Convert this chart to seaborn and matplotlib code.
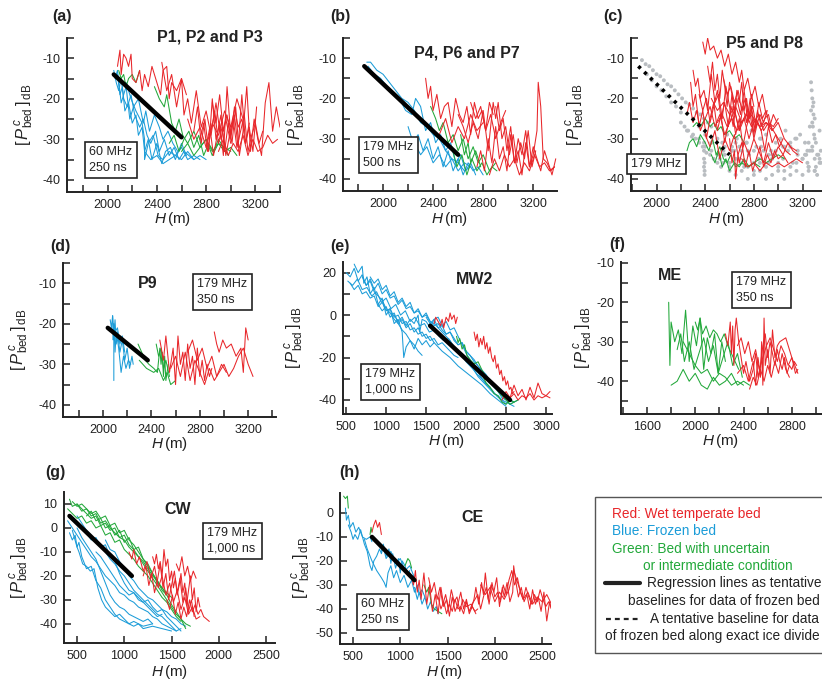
import matplotlib
matplotlib.use("Agg")
import matplotlib.pyplot as plt
import pandas as pd
import seaborn as sns
from matplotlib.ticker import MultipleLocator
from matplotlib.lines import Line2D
from matplotlib.patches import Rectangle

RED = "#e8262a"
BLUE = "#1b9cd8"
GREEN = "#22a83a"
GRAY = "#b9bdc1"

# ---------------- (a) P1, P2 and P3 ----------------
a_b1_h = [2050,2070,2090,2110,2130,2160,2190,2220,2260,2290,2320,2350,2390,2420,2460,2500,2540,2580,2620,2660,2700]
a_b1_p = [-13,-16,-18,-15,-20,-22,-19,-24,-27,-25,-29,-31,-28,-33,-30,-34,-32,-35,-33,-34,-35]
a_b2_h = [2080,2100,2120,2140,2170,2200,2230,2250,2280,2300,2330,2360,2400,2440,2470,2510,2550,2600,2640]
a_b2_p = [-14,-19,-17,-23,-21,-26,-24,-29,-27,-33,-30,-35,-31,-36,-33,-32,-35,-31,-34]
a_b3_h = [2060,2080,2110,2150,2180,2210,2250,2290,2310,2340,2380,2420,2450,2490,2530,2570]
a_b3_p = [-15,-13,-21,-17,-25,-22,-20,-26,-23,-28,-24,-27,-30,-28,-31,-33]
a_b4_h = [2150,2190,2230,2280,2300,2300,2330,2370,2410,2450,2500,2550,2600,2650,2700,2750]
a_b4_p = [-16,-20,-23,-26,-30,-35,-31,-29,-34,-35,-33,-34,-32,-35,-34,-35]
a_b5_h = [2300,2350,2400,2450,2500,2550,2600,2650,2700,2750,2800]
a_b5_p = [-33,-35,-34,-36,-35,-34,-35,-33,-35,-34,-35]
a_g1_h = [2090,2110,2130,2150,2170,2200,2230,2260]
a_g1_p = [-13,-15,-14,-17,-15,-14,-16,-13]
a_g2_h = [2380,2420,2460,2480,2520,2550,2580,2610,2650,2700,2750,2800,2850,2900,2950,3000]
a_g2_p = [-17,-20,-22,-19,-26,-28,-25,-29,-31,-28,-32,-30,-33,-31,-32,-33]
a_g3_h = [2500,2540,2580,2620,2660,2700,2740,2780,2820,2860,2900,2940,2980]
a_g3_p = [-31,-29,-33,-30,-28,-32,-29,-34,-31,-33,-30,-32,-34]
a_g4_h = [2600,2650,2700,2750,2800,2850,2900,2950,3000,3050]
a_g4_p = [-33,-31,-34,-32,-30,-34,-31,-33,-32,-34]
a_r1_h = [2080,2100,2110,2130,2150,2170,2190,2200,2230,2260,2280,2300,2330,2360,2400,2430,2450,2480,2500,2520,2560,2600,2640]
a_r1_p = [-12,-8,-14,-9,-10,-12,-9,-15,-16,-13,-18,-14,-17,-12,-16,-19,-13,-12,-20,-16,-18,-15,-19]
a_r2_h = [2440,2480,2520,2560,2600,2620,2650,2680,2720,2760,2800,2840,2880,2920,2960,3000]
a_r2_p = [-11,-18,-14,-22,-15,-24,-20,-26,-18,-27,-23,-29,-21,-30,-25,-31]
a_r3_h = [2700,2730,2760,2790,2820,2850,2880,2910,2940,2970,3000,3030,3060,3090,3120,3150,3180,3210]
a_r3_p = [-28,-22,-31,-25,-33,-20,-30,-26,-34,-17,-29,-24,-32,-19,-31,-27,-33,-22]
a_r4_h = [2800,2830,2860,2890,2920,2950,2980,3010,3040,3070,3100,3130,3160,3190,3220,3250,3280,3310,3340,3370,3400]
a_r4_p = [-32,-27,-34,-29,-24,-33,-26,-31,-22,-34,-28,-17,-33,-25,-30,-34,-21,-16,-28,-22,-27]
a_r5_h = [2900,2940,2980,3020,3060,3100,3140,3180,3220,3260,3300,3340,3380]
a_r5_p = [-33,-30,-34,-31,-33,-29,-34,-30,-33,-32,-29,-31,-30]
a_r6_h = [2650,2700,2750,2800,2850,2900,2950,3000,3050,3100]
a_r6_p = [-25,-30,-27,-32,-26,-29,-23,-27,-20,-25]
a_r7_h = [2750,2780,2810,2840,2870,2900,2930,2960,2990,3020,3050,3080,3110,3140,3170,3200,3230,3260]
a_r7_p = [-30,-26,-33,-28,-23,-31,-27,-34,-29,-25,-32,-28,-24,-33,-29,-26,-31,-28]
a_r8_h = [2850,2880,2910,2940,2970,3000,3030,3060,3090,3120,3150]
a_r8_p = [-21,-26,-19,-28,-24,-30,-22,-27,-25,-31,-26]
a_fit_h = [2050, 2600]
a_fit_p = [-14, -29.5]

# ---------------- (b) P4, P6 and P7 ----------------
b_b1_h = [1870,1900,1950,2000,2050,2100,2150,2200,2250,2300,2350,2400,2450,2500,2550,2600,2650,2700]
b_b1_p = [-11,-11,-13,-14,-16,-18,-20,-21,-23,-26,-27,-29,-30,-33,-35,-36,-38,-37]
b_b2_h = [1880,1930,1980,2030,2080,2130,2180,2230,2260,2300,2340,2380,2420,2460,2500,2540,2580,2620,2660,2700,2740]
b_b2_p = [-12,-14,-15,-17,-19,-20,-23,-24,-20,-22,-28,-26,-31,-29,-33,-31,-36,-34,-38,-36,-39]
b_b3_h = [2200,2240,2280,2320,2360,2400,2440,2480,2520,2560,2600,2640,2680,2720,2760,2800]
b_b3_p = [-27,-31,-29,-33,-30,-35,-32,-37,-33,-38,-35,-39,-36,-38,-37,-39]
b_b4_h = [2250,2300,2350,2400,2450,2500,2550,2600,2650,2700]
b_b4_p = [-31,-34,-32,-36,-34,-37,-35,-38,-36,-37]
b_g1_h = [2380,2420,2450,2480,2520,2560,2600,2640,2680,2720,2760,2800,2850,2900]
b_g1_p = [-22,-25,-28,-26,-31,-29,-33,-30,-35,-32,-36,-34,-38,-36]
b_g2_h = [2550,2590,2630,2670,2710,2750,2790,2830,2870,2910]
b_g2_p = [-32,-37,-34,-39,-35,-38,-36,-39,-37,-38]
b_g3_h = [2620,2650,2680,2700,2740,2780]
b_g3_p = [-29,-34,-31,-36,-33,-37]
b_r1_h = [2340,2360,2380,2400,2430,2460,2490,2520,2550,2580,2610,2640,2670,2700,2730,2760,2790,2820,2850,2880]
b_r1_p = [-15,-20,-17,-23,-19,-25,-22,-21,-27,-20,-24,-26,-22,-29,-21,-25,-23,-28,-21,-24]
b_r2_h = [2600,2640,2680,2720,2760,2800,2840,2880,2900,2920,2950,2980,3010,3040,3070,3100,3130,3160,3190,3220]
b_r2_p = [-24,-27,-31,-26,-30,-23,-33,-21,-25,-21,-30,-27,-34,-29,-36,-31,-35,-28,-37,-33]
b_r3_h = [2750,2780,2810,2840,2870,2900,2930,2960,2990,3020,3050,3080,3110,3140,3170,3200,3230,3240,3260,3280,3310,3340,3370]
b_r3_p = [-37,-33,-38,-30,-36,-27,-35,-32,-38,-29,-36,-33,-39,-31,-37,-34,-28,-16,-22,-35,-36,-38,-37]
b_r4_h = [2850,2890,2930,2970,3010,3050,3090,3130,3170,3210,3250,3290,3330,3370]
b_r4_p = [-39,-35,-38,-34,-37,-35,-39,-36,-38,-34,-37,-36,-38,-37]
b_r5_h = [2450,2500,2550,2600,2650,2700,2750,2800]
b_r5_p = [-29,-25,-31,-27,-30,-24,-28,-26]
b_r6_h = [2900,2930,2960,2990,3020,3050,3080,3110,3140,3170,3200,3230,3260,3290,3320,3350,3380]
b_r6_p = [-22,-28,-25,-33,-27,-36,-30,-34,-28,-37,-32,-35,-38,-33,-36,-39,-35]
b_r7_h = [2700,2740,2780,2820,2860,2900,2940,2980]
b_r7_p = [-21,-25,-22,-28,-24,-30,-26,-23]
b_fit_h = [1850, 2600]
b_fit_p = [-12, -34]

# ---------------- (c) P5 and P8 ----------------
c_gray1_h = [1880,1910,1940,1970,2000,2030,2060,2090,2120,2150,2180,2210,2240,2270,2300,2330,2360,2390,2420,2450]
c_gray1_p = [-10.5,-11.5,-12,-13,-14,-14.5,-15.5,-16.5,-17,-18,-19,-20,-21,-21.5,-22.5,-23.5,-24,-25,-26,-27]
c_gray2_h = [2200,2230,2260,2290,2320,2350,2380,2410,2440,2470,2500,2530]
c_gray2_p = [-26,-27,-28,-29.5,-30,-31,-32,-33.5,-34,-35,-36,-37]
c_gray3_h = [2390,2390,2390,2390,2395,2395,2395]
c_gray3_p = [-31,-33,-35,-37,-38,-39,-36]
c_gray4_h = [2500,2540,2580,2620,2660,2700,2740,2780,2820,2860,2900,2940,2980,3020,3060,3100,3140,3180,3220,3260,3300,3340]
c_gray4_p = [-30,-31,-29,-32,-30,-33,-31,-28,-32,-30,-29,-33,-31,-30,-28,-32,-30,-29,-31,-27,-30,-28]
c_gray5_h = [2520,2560,2600,2640,2680,2720,2760,2800,2840,2880,2920,2960,3000,3040,3080,3120,3160,3200,3240,3280,3320]
c_gray5_p = [-35,-34,-36,-33,-35,-37,-34,-36,-35,-33,-36,-34,-37,-35,-33,-36,-34,-35,-33,-32,-34]
c_gray6_h = [2600,2650,2700,2750,2800,2850,2900,2950,3000,3050,3100,3150,3200,3250,3300,3350]
c_gray6_p = [-38,-39,-38,-40,-39,-38,-40,-39,-38,-40,-39,-38,-39,-37,-38,-36]
c_gray7_h = [3270,3275,3280,3285,3290,3280,3270,3285,3295,3300,3310,3290]
c_gray7_p = [-16,-18,-20,-22,-24,-26,-23,-27,-29,-25,-31,-21]
c_gray8_h = [2300,2350,2400,2450,2550,2650,2750,2850,2950,3050,3150,3250]
c_gray8_p = [-25,-27,-29,-31,-33,-31,-33,-30,-34,-32,-30,-31]
c_gray9_h = [2250,2300,2350,2400,2450,2500,2550,2600,2650,2700,2750,2800,2850,2900,2950,3000,3050,3100,3150,3200,3250,3300]
c_gray9_p = [-28,-29,-30,-32,-33,-34,-36,-37,-35,-36,-37,-38,-36,-37,-35,-36,-38,-37,-36,-35,-37,-38]
c_gray10_h = [2560,2620,2680,2740,2800,2860,2920,2980,3040,3100,3160,3220,3280,3340]
c_gray10_p = [-32,-33,-32,-31,-33,-32,-34,-33,-32,-31,-33,-34,-33,-35]
c_gray11_h = [1920,1960,2000,2040,2080,2120,2160,2200]
c_gray11_p = [-14,-15.5,-17,-18,-19.5,-21,-22,-23.5]
c_gray12_h = [3230,3240,3250,3260,3300,3310,3320,3330,3340,3350]
c_gray12_p = [-34,-36,-38,-33,-35,-37,-39,-34,-36,-33]
c_r1_h = [2380,2400,2420,2440,2470,2500,2530,2560,2590,2620,2650,2680,2700,2720,2750,2780,2810,2840,2870,2900]
c_r1_p = [-6,-9,-5,-8,-7,-10,-8,-12,-9,-14,-11,-16,-13,-18,-15,-20,-17,-22,-19,-24]
c_r2_h = [2300,2320,2340,2360,2390,2420,2450,2480,2510,2540,2570,2600,2630,2660,2690,2720,2750,2780,2810,2840,2870,2900,2930,2960,2990]
c_r2_p = [-13,-17,-15,-20,-18,-23,-14,-21,-19,-25,-17,-22,-27,-20,-24,-18,-26,-22,-28,-21,-25,-23,-27,-24,-26]
c_r3_h = [2250,2270,2300,2330,2360,2400,2440,2480,2520,2560,2600,2640,2680,2720,2760,2800,2840,2880,2920,2960,3000]
c_r3_p = [-24,-21,-26,-23,-28,-25,-22,-27,-24,-29,-26,-23,-28,-25,-30,-26,-24,-28,-26,-27,-25]
c_r4_h = [2350,2380,2410,2440,2470,2500,2530,2560,2590,2620,2650,2680,2710,2740,2770,2800,2830,2860,2890,2920,2950]
c_r4_p = [-19,-23,-20,-26,-22,-18,-25,-21,-27,-19,-24,-28,-22,-26,-20,-29,-23,-27,-25,-24,-28]
c_r5_h = [2400,2440,2480,2520,2560,2600,2640,2680,2720,2760,2800,2840,2880,2920,2960,3000,3040,3080,3120,3160]
c_r5_p = [-29,-32,-28,-35,-30,-33,-29,-36,-31,-34,-30,-33,-36,-31,-35,-32,-34,-31,-33,-34]
c_r6_h = [2600,2620,2640,2650,2670,2700,2730,2760,2790,2820,2850,2880,2910,2940,2970,3000,3040,3080]
c_r6_p = [-30,-36,-33,-40,-34,-31,-37,-33,-38,-35,-32,-37,-34,-36,-33,-35,-34,-36]
c_r7_h = [2550,2580,2610,2640,2670,2700,2730,2760,2790,2820,2850,2880,2910]
c_r7_p = [-15,-19,-17,-21,-18,-23,-20,-25,-22,-27,-24,-26,-23]
c_r8_h = [2450,2500,2550,2600,2650,2700,2750,2800,2850,2900,2950,3000,3050,3100,3150]
c_r8_p = [-20,-23,-21,-24,-22,-26,-23,-25,-27,-26,-28,-26,-30,-32,-33]
c_r9_h = [2700,2750,2800,2850,2900,2950,3000,3050,3100,3150,3200]
c_r9_p = [-35,-37,-36,-38,-36,-37,-36,-37,-36,-35,-36]
c_r10_h = [2280,2300,2320,2350,2380,2410,2440,2470,2500,2530,2560,2590,2620,2650,2680,2710,2740,2770,2800,2830,2860,2890,2920,2950,2980,3010,3040]
c_r10_p = [-16,-22,-19,-27,-23,-30,-25,-21,-28,-24,-31,-26,-22,-29,-25,-32,-27,-24,-30,-26,-28,-33,-27,-31,-29,-32,-30]
c_r11_h = [2420,2440,2460,2480,2500,2520,2540,2560,2580,2600,2620,2640,2660,2680,2700,2720,2740,2760,2780,2800]
c_r11_p = [-12,-16,-11,-18,-14,-20,-13,-17,-22,-16,-19,-24,-18,-21,-16,-23,-20,-25,-19,-22]
c_r12_h = [2500,2540,2580,2620,2660,2700,2740,2780,2820,2860,2900,2940,2980,3020,3060,3100]
c_r12_p = [-26,-24,-27,-25,-28,-26,-24,-27,-25,-28,-26,-27,-29,-31,-33,-34]
c_g1_h = [2300,2330,2360,2400,2440,2470,2500,2530,2560,2600,2640,2680,2720]
c_g1_p = [-27,-26,-27,-25,-27,-26,-28,-27,-29,-28,-30,-29,-31]
c_g2_h = [2250,2270,2300,2330,2360,2400,2430,2460,2490,2520,2550,2580,2610,2650,2700,2750,2800,2850]
c_g2_p = [-33,-31,-30,-32,-29,-31,-33,-30,-34,-32,-35,-36,-34,-37,-36,-37,-36,-37]
c_g3_h = [2450,2480,2510,2540,2570,2600,2640,2680,2720,2760,2800,2850,2900,2950,3000,3050]
c_g3_p = [-34,-36,-33,-37,-35,-38,-36,-37,-35,-37,-36,-35,-36,-35,-34,-35]
c_fit_h = [1850, 2600]
c_fit_p = [-12, -34]

# ---------------- (d) P9 ----------------
d_b1_h = [2060,2070,2080,2090,2100,2110,2120,2140,2160,2180,2200,2220,2240,2250]
d_b1_p = [-19,-21,-18,-23,-19,-25,-22,-27,-24,-29,-26,-31,-28,-30]
d_b2_h = [2080,2085,2090,2100,2110,2130,2150,2170,2190,2210,2230]
d_b2_p = [-18,-24,-20,-27,-22,-26,-32,-28,-31,-29,-30]
d_b3_h = [2090,2090,2100,2120,2140,2160,2180]
d_b3_p = [-34,-20,-22,-21,-25,-23,-27]
d_g1_h = [2290,2320,2350,2380,2420,2450,2470,2480,2490,2500,2510,2520,2540]
d_g1_p = [-25,-27,-29,-30,-31,-32,-26,-30,-27,-33,-28,-34,-30]
d_g2_h = [2300,2360,2420,2460,2500,2530,2560,2600]
d_g2_p = [-29,-31,-32,-31,-34,-32,-35,-34]
d_g3_h = [2440,2460,2480,2500,2520,2550]
d_g3_p = [-25,-28,-26,-31,-29,-33]
d_r1_h = [2470,2500,2520,2550,2580,2600,2620,2640,2660,2680,2700,2720,2740,2760,2780,2800,2820,2840,2860,2880,2900]
d_r1_p = [-24,-29,-23,-32,-26,-35,-23,-30,-27,-34,-25,-31,-28,-35,-26,-33,-29,-34,-30,-33,-31]
d_r2_h = [2560,2600,2640,2680,2720,2760,2800,2840,2880,2920,2960,3000,3040,3080,3120,3160,3200,3240]
d_r2_p = [-31,-28,-33,-27,-34,-29,-32,-35,-31,-34,-32,-30,-33,-31,-28,-26,-30,-33]
d_r3_h = [2920,2940,2960,2990,3020,3060,3100,3140,3160,3180,3200]
d_r3_p = [-22,-25,-27,-24,-26,-25,-28,-26,-32,-21,-24]
d_r4_h = [2700,2740,2780,2820,2860,2900,2940,2980,3020]
d_r4_p = [-27,-24,-29,-26,-31,-28,-33,-30,-32]
d_fit_h = [2040, 2370]
d_fit_p = [-21, -29]

# ---------------- (e) MW2 ----------------
e_b1_h = [500,550,600,650,700,750,800,850,900,950,1000,1050,1100,1150,1200,1250,1300,1350,1400,1450,1500,1550,1600,1650,1700,1750,1800,1850,1900,1950,2000,2050,2100,2150,2200,2250,2300,2350,2400,2450,2500,2550,2600]
e_b1_p = [20,18,22,16,19,14,17,12,15,10,12,8,9,5,7,3,4,1,2,-1,0,-3,-4,-6,-8,-10,-12,-15,-17,-19,-22,-24,-26,-29,-31,-33,-35,-37,-38,-40,-41,-42,-41]
e_b2_h = [520,580,640,700,760,820,880,940,1000,1060,1120,1180,1240,1300,1360,1420,1480,1540,1600,1660,1720,1780,1840,1900,1960,2020,2080,2140,2200,2260,2320,2380,2440,2500]
e_b2_p = [16,14,17,12,13,9,11,6,8,3,5,0,2,-3,-1,-5,-4,-8,-7,-10,-12,-11,-15,-17,-20,-22,-25,-28,-30,-33,-35,-38,-40,-42]
e_b3_h = [600,650,700,720,760,800,850,900,950,1000,1050,1100,1150,1200,1220,1250,1300,1350,1400,1450,1500,1550,1600,1700,1800,1900,2000,2100,2200,2300,2400,2500]
e_b3_p = [24,20,23,15,18,10,13,5,8,0,3,-4,-2,-8,-20,-15,-12,-16,-11,-14,-12,-15,-13,-17,-20,-24,-27,-30,-33,-37,-40,-43]
e_b4_h = [800,850,900,950,1000,1050,1100,1150,1200,1250,1300,1350,1400,1450,1500,1550,1600,1650,1700,1750,1800,1850,1900,1950,2000,2050,2100,2150,2200,2250,2300,2350,2400,2450,2500,2550,2600]
e_b4_p = [18,15,17,12,14,9,11,6,8,4,6,1,3,-1,1,-3,-5,-4,-7,-9,-8,-12,-14,-13,-17,-19,-22,-24,-27,-29,-32,-34,-36,-39,-40,-42,-43]
e_b5_h = [900,950,1000,1050,1100,1150,1200,1250,1300,1350,1400,1450,1500,1550,1600,1650,1700,1750,1800,1850,1900]
e_b5_p = [5,2,4,-1,1,-4,-2,-6,-4,-8,-6,-10,-9,-12,-11,-14,-13,-15,-17,-19,-20]
e_b6_h = [1100,1150,1200,1250,1300,1350,1400,1420,1450,1500,1550,1600,1650,1700,1750,1800,1850,1900,1950,2000,2050,2100,2150,2200,2250,2300]
e_b6_p = [0,-3,-1,-5,-2,-4,0,-8,-2,-3,-6,-2,-1,-5,-3,-7,-6,-10,-14,-18,-21,-25,-27,-30,-32,-34]
e_b7_h = [1500,1550,1600,1650,1700,1750,1800,1850,1900,1950,2000,2050,2100,2150,2200,2250,2300,2350,2400,2450,2500,2550,2600,2650]
e_b7_p = [-1,-4,-2,-6,-5,-9,-8,-11,-14,-13,-17,-19,-21,-24,-26,-28,-31,-33,-35,-37,-39,-40,-41,-40]
e_b8_h = [550,600,650,700,750,800,850,900,950,1000,1050,1100,1150,1200,1250,1300,1350,1400,1450,1500,1550,1600]
e_b8_p = [15,12,14,10,11,8,9,4,6,2,3,-1,0,-4,-3,-7,-6,-9,-8,-11,-10,-13]
e_b9_h = [700,750,800,850,900,950,1000,1050,1100,1150,1200,1250,1300,1350,1400,1450]
e_b9_p = [18,14,16,11,9,7,3,1,-2,-4,-7,-9,-12,-14,-17,-19]
e_g1_h = [1880,1900,1920,1950,1980,2010,2050,2100,2150,2200,2250,2300,2350,2400,2450,2500,2550,2600,2650]
e_g1_p = [-10,-13,-11,-16,-14,-19,-21,-23,-22,-26,-29,-31,-33,-36,-38,-40,-42,-41,-40]
e_g2_h = [2200,2250,2300,2350,2400,2450,2500,2550,2600]
e_g2_p = [-28,-32,-34,-37,-38,-41,-42,-40,-41]
e_r1_h = [1600,1620,1650,1680,1700,1720,1750,1780,1800,1820,1850,1870,1890]
e_r1_p = [-4,-1,-3,-5,-2,-6,-1,-3,1,-2,0,-4,-1]
e_r2_h = [2100,2120,2140,2160,2180,2200,2220,2240,2260,2280,2300,2320,2340,2360,2380,2400,2420,2440,2460,2480,2500,2520,2540,2560,2580,2600]
e_r2_p = [-8,-12,-9,-15,-11,-14,-10,-16,-13,-18,-15,-20,-22,-19,-25,-23,-28,-26,-31,-29,-33,-31,-35,-34,-37,-36]
e_r3_h = [2500,2550,2600,2650,2700,2750,2800,2850,2900,2950,3000,3050]
e_r3_p = [-38,-39,-37,-40,-38,-39,-37,-40,-38,-39,-38,-39]
e_r4_h = [2450,2500,2550,2600,2650,2700,2750,2800,2850,2900,2950,3000,3050]
e_r4_p = [-40,-36,-39,-33,-38,-35,-40,-34,-39,-32,-37,-38,-36]
e_fit_h = [1550, 2550]
e_fit_p = [-5, -40]

# ---------------- (f) ME ----------------
f_g1_h = [1780,1790,1800,1830,1860,1890,1920,1950,1980,2010,2040,2070,2100,2130,2160,2190,2220,2250]
f_g1_p = [-20,-36,-25,-30,-27,-33,-22,-35,-26,-31,-24,-37,-29,-33,-28,-38,-30,-35]
f_g2_h = [1800,1850,1900,1950,2000,2050,2100,2150,2200,2250,2300,2350,2400,2450]
f_g2_p = [-41,-40,-37,-40,-38,-41,-42,-39,-41,-40,-38,-41,-40,-41]
f_g3_h = [1850,1880,1910,1950,1990,2030,2070,2110,2150,2190,2230,2270,2310,2350,2390]
f_g3_p = [-32,-28,-35,-30,-37,-33,-29,-35,-31,-38,-34,-30,-36,-33,-39]
f_g4_h = [2000,2020,2040,2060,2090,2120,2150,2180,2210,2240,2270,2300,2330,2360]
f_g4_p = [-25,-27,-24,-28,-26,-29,-27,-28,-30,-28,-31,-33,-35,-37]
f_g5_h = [1900,1950,2000,2050,2100,2150,2200,2250,2300,2350,2400]
f_g5_p = [-30,-33,-36,-38,-37,-40,-38,-39,-41,-40,-41]
f_r1_h = [2250,2270,2290,2300,2310,2320,2330,2340,2360,2380,2400,2420,2450,2480,2500,2520,2540,2560,2580,2600,2620,2640,2660,2680,2700,2720,2740,2760,2780,2800,2820,2840]
f_r1_p = [-28,-31,-25,-33,-26,-36,-27,-24,-30,-34,-38,-35,-40,-37,-33,-39,-36,-31,-28,-34,-30,-33,-36,-32,-35,-37,-34,-38,-36,-37,-35,-36]
f_r2_h = [2350,2400,2440,2480,2500,2520,2540,2550,2560,2570,2580,2600,2620,2640,2660,2680,2700,2750,2800,2850]
f_r2_p = [-38,-36,-40,-35,-41,-34,-39,-30,-41,-24,-36,-32,-38,-27,-34,-31,-30,-29,-34,-38]
f_r3_h = [2450,2480,2510,2540,2570,2600,2630,2660,2690,2720,2750,2780]
f_r3_p = [-42,-39,-41,-37,-40,-36,-39,-35,-38,-33,-37,-39]
f_r4_h = [2350,2380,2410,2440,2470,2500,2530,2560,2590,2620,2650,2680,2710,2740,2770,2800,2830,2850]
f_r4_p = [-31,-29,-33,-30,-35,-32,-37,-34,-31,-29,-32,-35,-31,-33,-36,-34,-38,-37]

# ---------------- (g) CW ----------------
g_g1_h = [420,450,500,550,600,650,700,750,800,850,900,950,1000,1050,1100,1150,1200,1250,1300,1350,1400,1450,1500,1550,1600,1650,1700]
g_g1_p = [12,9,10,7,8,5,6,2,3,0,-2,-4,-5,-8,-10,-12,-15,-18,-21,-24,-27,-30,-33,-36,-38,-40,-41]
g_g2_h = [400,450,500,550,600,650,700,750,800,850,900,950,1000,1050,1100,1150,1200,1250,1300,1350,1400,1450,1500,1550,1600]
g_g2_p = [8,6,4,5,2,3,0,1,-3,-2,-6,-5,-9,-11,-13,-16,-18,-20,-23,-26,-29,-31,-34,-37,-39]
g_g3_h = [500,550,600,650,700,750,800,850,900,950,1000,1050,1100,1150,1200,1250,1300,1350,1400,1450,1500,1550,1600,1650]
g_g3_p = [10,8,6,4,5,1,2,-1,0,-4,-3,-7,-9,-12,-14,-17,-20,-22,-26,-28,-32,-35,-38,-42]
g_g4_h = [600,650,700,750,800,850,900,950,1000,1050,1100,1150,1200,1250,1300,1350,1400,1450,1500]
g_g4_p = [5,7,3,4,0,1,-3,-1,-6,-4,-9,-8,-13,-15,-19,-22,-25,-27,-29]
g_g5_h = [450,500,550,600,650,700,750,800,850,900,950,1000,1050,1100,1150,1200,1250,1300,1350,1400,1450]
g_g5_p = [11,9,10,8,6,7,4,5,1,2,-2,-1,-5,-7,-10,-13,-16,-19,-23,-25,-28]
g_b1_h = [400,450,500,550,600,650,700,750,800,850,900,950,1000,1050,1100,1150,1200,1250,1300,1350,1400,1450,1500,1550,1600]
g_b1_p = [3,0,-3,-6,-9,-12,-14,-17,-20,-22,-24,-27,-28,-30,-31,-33,-34,-35,-37,-38,-40,-41,-42,-43,-42]
g_b2_h = [420,450,480,500,520,550,580,600,650,700,750,800,850,900,950,1000,1050,1100,1150,1200,1300,1400,1500]
g_b2_p = [-2,-5,-3,-8,-6,-12,-15,-17,-16,-22,-25,-30,-33,-36,-38,-39,-40,-41,-40,-42,-41,-42,-43]
g_b3_h = [500,550,600,650,700,750,800,850,900,950,1000,1050,1100,1150,1200,1250,1300,1350,1400,1450,1500,1550]
g_b3_p = [5,2,-1,-3,-6,-8,-10,-13,-15,-18,-20,-23,-26,-28,-30,-32,-34,-36,-37,-39,-41,-43]
g_b4_h = [450,500,520,560,600,640,680,700,720,760,800,850,900,950,1000,1050,1100,1200,1300]
g_b4_p = [-1,-8,-10,-15,-16,-18,-17,-21,-25,-30,-33,-35,-37,-36,-38,-40,-39,-41,-40]
g_b5_h = [600,650,700,750,800,850,900,950,1000,1050,1100,1150,1200,1250,1300,1350,1400]
g_b5_p = [-2,-5,-4,-8,-7,-12,-14,-19,-23,-26,-27,-30,-31,-33,-35,-37,-36]
g_b6_h = [800,850,900,950,1000,1050,1100,1150,1200,1250,1300,1350,1400,1450,1500,1550,1600,1650]
g_b6_p = [-5,-9,-10,-14,-17,-20,-22,-25,-27,-29,-30,-32,-34,-35,-37,-38,-40,-41]
g_b7_h = [500,550,600,650,700,750,800,850,900,950,1000,1050,1100,1150,1200,1250,1300]
g_b7_p = [0,-4,-7,-10,-13,-18,-23,-28,-31,-33,-34,-36,-37,-38,-39,-38,-40]
g_b8_h = [700,750,800,850,900,950,1000,1050,1100,1150,1200,1250,1300,1350,1400,1450,1500,1550,1600]
g_b8_p = [-10,-12,-15,-18,-21,-24,-26,-28,-27,-29,-31,-30,-33,-35,-34,-37,-39,-41,-43]
g_r1_h = [1050,1080,1100,1130,1160,1200,1240,1280,1320,1360,1400,1440,1480,1520,1560,1600,1640,1680,1720,1760,1800]
g_r1_p = [-10,-13,-9,-15,-12,-18,-14,-21,-16,-25,-20,-28,-23,-31,-26,-34,-29,-36,-33,-38,-37]
g_r2_h = [1300,1320,1340,1360,1380,1400,1420,1440,1460,1480,1500,1520,1540,1560,1580,1600,1620,1640,1660,1680,1700,1720,1740,1760,1780,1800]
g_r2_p = [-12,-15,-11,-17,-14,-20,-9,-16,-13,-22,-18,-25,-21,-28,-24,-19,-27,-23,-32,-26,-20,-30,-25,-35,-29,-33]
g_r3_h = [1450,1480,1510,1540,1570,1600,1630,1660,1690,1720,1750,1780,1810,1840,1870,1900]
g_r3_p = [-30,-34,-28,-36,-31,-38,-33,-37,-30,-35,-32,-36,-34,-37,-38,-39]
g_r4_h = [1550,1580,1610,1640,1670,1700,1730,1760]
g_r4_p = [-15,-18,-12,-20,-16,-22,-18,-21]
g_r5_h = [1200,1230,1260,1290,1320,1350,1380,1410,1440,1470,1500,1530,1560,1590,1620,1650,1680,1710,1740]
g_r5_p = [-20,-16,-24,-19,-27,-22,-15,-25,-19,-30,-24,-18,-27,-21,-31,-25,-35,-30,-37]
g_fit_h = [420, 1080]
g_fit_p = [5, -20]

# ---------------- (h) CE ----------------
h_b1_h = [420,430,450,470,500,530,560,600,640,680,700]
h_b1_p = [2,-3,-1,-6,-4,-8,-6,-10,-11,-10,-12]
h_b2_h = [450,480,500,520,550,580,600,620,650,680,700,720,750,780,800,820,850,900,950,1000,1050,1100,1150]
h_b2_p = [-5,-8,-11,-9,-11,-7,-10,-13,-16,-22,-24,-20,-18,-15,-17,-14,-19,-16,-21,-19,-24,-22,-27]
h_b3_h = [620,650,700,750,800,830,850,870,900,930,960,1000,1040,1080,1120,1150,1180,1200,1230,1260]
h_b3_p = [-11,-15,-20,-24,-27,-29,-31,-25,-22,-27,-24,-29,-26,-31,-28,-33,-30,-34,-32,-35]
h_b4_h = [800,820,850,880,900,920,950,980,1000,1020,1050,1080,1100]
h_b4_p = [-16,-13,-18,-15,-21,-17,-23,-19,-25,-20,-22,-26,-24]
h_b5_h = [1150,1180,1200,1230,1260,1290,1320,1350,1380,1400]
h_b5_p = [-31,-36,-33,-38,-35,-40,-37,-41,-39,-42]
h_g1_h = [400,420,440,450]
h_g1_p = [7,6,7,2]
h_g2_h = [1050,1080,1100,1120]
h_g2_p = [-22,-19,-20,-23]
h_g3_h = [1250,1280,1300,1330,1360,1400,1440]
h_g3_p = [-30,-33,-31,-38,-40,-41,-42]
h_g4_h = [680,690,700]
h_g4_p = [-9,-6,-8]
h_r1_h = [700,720,740,760,780,800]
h_r1_p = [-8,-5,-3,-6,-4,-9]
h_r2_h = [1100,1120,1140,1160,1180,1200,1220,1250,1280,1310,1340,1370,1400,1430,1460,1490,1520,1550,1580,1610,1640,1670,1700,1730,1760,1790,1820]
h_r2_p = [-25,-27,-30,-24,-33,-28,-36,-25,-38,-30,-41,-34,-42,-31,-39,-36,-43,-35,-41,-38,-33,-40,-36,-42,-39,-41,-40]
h_r3_h = [1300,1330,1360,1390,1420,1450,1480,1510,1540,1570,1600,1630,1660,1700,1750,1800]
h_r3_p = [-27,-33,-29,-36,-31,-38,-34,-40,-32,-37,-35,-41,-36,-39,-38,-42]
h_r4_h = [1750,1780,1800,1830,1860,1880,1900,1930,1960,1990,2020,2050,2080,2100,2130,2160,2190,2200,2220,2250,2280,2310,2340,2370,2400,2430,2460,2490,2520,2550,2580,2600]
h_r4_p = [-40,-36,-31,-38,-29,-34,-25,-36,-30,-33,-27,-39,-31,-35,-29,-37,-33,-22,-28,-35,-31,-37,-34,-40,-32,-38,-35,-41,-33,-45,-37,-40]
h_r5_h = [1850,1900,1950,2000,2050,2100,2150,2200,2250,2300,2350,2400,2450,2500,2550,2600]
h_r5_p = [-30,-34,-31,-37,-33,-36,-32,-24,-30,-36,-33,-38,-35,-37,-34,-38]
h_r6_h = [1400,1430,1460,1490,1520,1550,1580,1610,1640,1670,1700,1730,1760,1790,1820,1850,1880,1910,1940,1970,2000,2030,2060,2090,2120,2150,2180,2210,2240,2270,2300,2330,2360,2390,2420,2450,2480,2510,2540,2570,2600]
h_r6_p = [-35,-40,-37,-42,-38,-41,-36,-40,-39,-42,-37,-41,-38,-36,-34,-40,-35,-31,-38,-29,-35,-33,-37,-30,-34,-28,-24,-30,-27,-33,-36,-31,-35,-38,-34,-37,-32,-36,-39,-37,-40]
h_fit_h = [700, 1150]
h_fit_p = [-10, -28]

# text
panel_letters = ["(a)", "(b)", "(c)", "(d)", "(e)", "(f)", "(g)", "(h)"]
panel_titles = ["P1, P2 and P3", "P4, P6 and P7", "P5 and P8", "P9", "MW2", "ME", "CW", "CE"]
panel_boxes = ["60 MHz\n250 ns", "179 MHz\n500 ns", "179 MHz", "179 MHz\n350 ns",
               "179 MHz\n1,000 ns", "179 MHz\n350 ns", "179 MHz\n1,000 ns", "60 MHz\n250 ns"]
legend_lines = ["Red: Wet temperate bed", "Blue: Frozen bed", "Green: Bed with uncertain",
                "or intermediate condition", "Regression lines as tentative",
                "baselines for data of frozen bed", "A tentative baseline for data",
                "of frozen bed along exact ice divide"]

# ---------------------------------------------------------------
W, H = 822, 681
sns.set_style("ticks")
plt.rcParams['font.family'] = ['Liberation Sans', 'DejaVu Sans']
plt.rcParams['axes.unicode_minus'] = False
plt.rcParams['mathtext.fontset'] = 'custom'
plt.rcParams['mathtext.rm'] = 'Liberation Sans'
plt.rcParams['mathtext.it'] = 'Liberation Sans:italic'
plt.rcParams['mathtext.bf'] = 'Liberation Sans:bold'

fig = plt.figure(figsize=(W / 100, H / 100), dpi=100)


def fx(px):
    return px / W


def fy(py):
    return 1 - py / H


COLORS = {"blue": BLUE, "green": GREEN, "red": RED}


def make_df(traces):
    rows = []
    for i, (kind, hs, ps) in enumerate(traces):
        for h, p in zip(hs, ps):
            rows.append({"H": h, "P": p, "trace": i, "kind": kind})
    return pd.DataFrame(rows)


def draw_panel(rect, traces, xlim, ylim, xmaj, xmin, ymaj, ymin, fit=None, fit_style="-", gray=None):
    l, t, r, b = rect
    ax = fig.add_axes([fx(l), fy(b), (r - l) / W, (b - t) / H])
    ax.set_facecolor("none")
    if gray is not None:
        gdf = pd.DataFrame({"H": [v for hs, _ in gray for v in hs],
                            "P": [v for _, ps in gray for v in ps]})
        sns.scatterplot(data=gdf, x="H", y="P", color=GRAY, s=8, edgecolor="none", ax=ax, legend=False)
    df = make_df(traces)
    for kind in ["blue", "green", "red"]:
        sub = df[df["kind"] == kind]
        if len(sub):
            sns.lineplot(data=sub, x="H", y="P", units="trace", estimator=None, sort=False,
                         color=COLORS[kind], linewidth=0.75, ax=ax, legend=False)
    if fit is not None:
        if fit_style == "-":
            sns.lineplot(x=fit[0], y=fit[1], color="black", linewidth=3.2, ax=ax, legend=False)
        else:
            sns.lineplot(x=fit[0], y=fit[1], color="black", linewidth=2.6, ax=ax, legend=False,
                         linestyle=(0, (0.9, 1.4)))
    ax.set_xlim(*xlim)
    ax.set_ylim(*ylim)
    ax.xaxis.set_major_locator(MultipleLocator(xmaj))
    ax.yaxis.set_major_locator(MultipleLocator(ymaj))
    if xmin:
        ax.xaxis.set_minor_locator(MultipleLocator(xmin))
    if ymin:
        ax.yaxis.set_minor_locator(MultipleLocator(ymin))
    sns.despine(ax=ax)
    for s in ["left", "bottom"]:
        ax.spines[s].set_linewidth(1.4)
        ax.spines[s].set_color("#222222")
    ax.tick_params(which="both", direction="in", color="#222222", width=1.1)
    ax.tick_params(which="major", length=5, labelsize=9, pad=5, labelcolor="#222222")
    ax.tick_params(which="minor", length=5)
    ax.set_xlabel("")
    ax.set_ylabel("")
    return ax


A = [("blue", a_b1_h, a_b1_p), ("blue", a_b2_h, a_b2_p), ("blue", a_b3_h, a_b3_p), ("blue", a_b4_h, a_b4_p),
     ("blue", a_b5_h, a_b5_p),
     ("green", a_g1_h, a_g1_p), ("green", a_g2_h, a_g2_p), ("green", a_g3_h, a_g3_p), ("green", a_g4_h, a_g4_p),
     ("red", a_r1_h, a_r1_p), ("red", a_r2_h, a_r2_p), ("red", a_r3_h, a_r3_p), ("red", a_r4_h, a_r4_p),
     ("red", a_r5_h, a_r5_p), ("red", a_r6_h, a_r6_p), ("red", a_r7_h, a_r7_p), ("red", a_r8_h, a_r8_p)]
B = [("blue", b_b1_h, b_b1_p), ("blue", b_b2_h, b_b2_p), ("blue", b_b3_h, b_b3_p), ("blue", b_b4_h, b_b4_p),
     ("green", b_g1_h, b_g1_p), ("green", b_g2_h, b_g2_p), ("green", b_g3_h, b_g3_p),
     ("red", b_r1_h, b_r1_p), ("red", b_r2_h, b_r2_p), ("red", b_r3_h, b_r3_p), ("red", b_r4_h, b_r4_p),
     ("red", b_r5_h, b_r5_p), ("red", b_r6_h, b_r6_p), ("red", b_r7_h, b_r7_p)]
C = [("green", c_g1_h, c_g1_p), ("green", c_g2_h, c_g2_p), ("green", c_g3_h, c_g3_p),
     ("red", c_r1_h, c_r1_p), ("red", c_r2_h, c_r2_p), ("red", c_r3_h, c_r3_p), ("red", c_r4_h, c_r4_p),
     ("red", c_r5_h, c_r5_p), ("red", c_r6_h, c_r6_p), ("red", c_r7_h, c_r7_p), ("red", c_r8_h, c_r8_p),
     ("red", c_r9_h, c_r9_p), ("red", c_r10_h, c_r10_p), ("red", c_r11_h, c_r11_p), ("red", c_r12_h, c_r12_p)]
C_GRAY = [(c_gray1_h, c_gray1_p), (c_gray2_h, c_gray2_p), (c_gray3_h, c_gray3_p), (c_gray4_h, c_gray4_p),
          (c_gray5_h, c_gray5_p), (c_gray6_h, c_gray6_p), (c_gray7_h, c_gray7_p), (c_gray8_h, c_gray8_p),
          (c_gray9_h, c_gray9_p), (c_gray10_h, c_gray10_p), (c_gray11_h, c_gray11_p), (c_gray12_h, c_gray12_p)]
D = [("blue", d_b1_h, d_b1_p), ("blue", d_b2_h, d_b2_p), ("blue", d_b3_h, d_b3_p),
     ("green", d_g1_h, d_g1_p), ("green", d_g2_h, d_g2_p), ("green", d_g3_h, d_g3_p),
     ("red", d_r1_h, d_r1_p), ("red", d_r2_h, d_r2_p), ("red", d_r3_h, d_r3_p), ("red", d_r4_h, d_r4_p)]
E = [("blue", e_b1_h, e_b1_p), ("blue", e_b2_h, e_b2_p), ("blue", e_b3_h, e_b3_p), ("blue", e_b4_h, e_b4_p),
     ("blue", e_b5_h, e_b5_p), ("blue", e_b6_h, e_b6_p), ("blue", e_b7_h, e_b7_p), ("blue", e_b8_h, e_b8_p),
     ("blue", e_b9_h, e_b9_p),
     ("green", e_g1_h, e_g1_p), ("green", e_g2_h, e_g2_p),
     ("red", e_r1_h, e_r1_p), ("red", e_r2_h, e_r2_p), ("red", e_r3_h, e_r3_p), ("red", e_r4_h, e_r4_p)]
F = [("green", f_g1_h, f_g1_p), ("green", f_g2_h, f_g2_p), ("green", f_g3_h, f_g3_p), ("green", f_g4_h, f_g4_p),
     ("green", f_g5_h, f_g5_p),
     ("red", f_r1_h, f_r1_p), ("red", f_r2_h, f_r2_p), ("red", f_r3_h, f_r3_p), ("red", f_r4_h, f_r4_p)]
G = [("blue", g_b1_h, g_b1_p), ("blue", g_b2_h, g_b2_p), ("blue", g_b3_h, g_b3_p), ("blue", g_b4_h, g_b4_p),
     ("blue", g_b5_h, g_b5_p), ("blue", g_b6_h, g_b6_p), ("blue", g_b7_h, g_b7_p), ("blue", g_b8_h, g_b8_p),
     ("green", g_g1_h, g_g1_p), ("green", g_g2_h, g_g2_p), ("green", g_g3_h, g_g3_p), ("green", g_g4_h, g_g4_p),
     ("green", g_g5_h, g_g5_p),
     ("red", g_r1_h, g_r1_p), ("red", g_r2_h, g_r2_p), ("red", g_r3_h, g_r3_p), ("red", g_r4_h, g_r4_p),
     ("red", g_r5_h, g_r5_p)]
HH = [("blue", h_b1_h, h_b1_p), ("blue", h_b2_h, h_b2_p), ("blue", h_b3_h, h_b3_p), ("blue", h_b4_h, h_b4_p),
      ("blue", h_b5_h, h_b5_p),
      ("green", h_g1_h, h_g1_p), ("green", h_g2_h, h_g2_p), ("green", h_g3_h, h_g3_p), ("green", h_g4_h, h_g4_p),
      ("red", h_r1_h, h_r1_p), ("red", h_r2_h, h_r2_p), ("red", h_r3_h, h_r3_p), ("red", h_r4_h, h_r4_p),
      ("red", h_r5_h, h_r5_p), ("red", h_r6_h, h_r6_p)]

# rect: left, top, right, bottom (pixels)
draw_panel((67, 38, 280, 192), A, (1670, 3400), (-43, -5), 400, 200, 10, 5, fit=(a_fit_h, a_fit_p))
draw_panel((343, 38, 557, 191), B, (1680, 3390), (-43, -5), 400, 200, 10, 5, fit=(b_fit_h, b_fit_p))
draw_panel((631, 38, 822, 191), C, (1790, 3360), (-43, -5), 400, 200, 10, 5, fit=(c_fit_h, c_fit_p),
           fit_style=":", gray=C_GRAY)
draw_panel((63, 263, 276, 417), D, (1670, 3430), (-43, -5), 400, 200, 10, 5, fit=(d_fit_h, d_fit_p))
draw_panel((343, 262, 552, 414), E, (460, 3075), (-46.6, 25), 500, None, 20, 10, fit=(e_fit_h, e_fit_p))
draw_panel((621, 262, 822, 414), F, (1385, 3050), (-48.3, -9.8), 400, 200, 10, 5)
draw_panel((64, 492, 275, 643), G, (362, 2595), (-48, 15), 500, None, 10, None, fit=(g_fit_h, g_fit_p))
draw_panel((340, 493, 551, 644), HH, (362, 2595), (-54.6, 8.3), 500, None, 10, None, fit=(h_fit_h, h_fit_p))

# panel letters, titles, boxes, axis labels
letter_pos = [(52, 17), (330, 17), (603, 17), (50, 247), (330, 247), (609, 245), (45, 472), (339, 472)]
title_pos = [(210, 37), (467, 53), (764, 43), (148, 284), (475, 280), (670, 275), (178, 509), (472, 517)]
box_pos = [(89, 160), (363, 155), (631, 164), (197, 292), (365, 382), (736, 290), (207, 541), (361, 612)]
ylab_pos = [(25, 115), (297, 115), (576, 115), (20, 340), (295, 338), (584, 338), (20, 568), (302, 568)]
xlab_pos = [(173, 219), (450, 219), (727, 219), (170, 444), (447, 441), (721, 441), (170, 672), (445, 672)]

YLAB = r'$[\,P^{\,c}_{\mathrm{bed}}\,]_{\,\mathrm{dB}}$'
XLAB = r'$H\,$(m)'

for i in range(8):
    fig.text(fx(letter_pos[i][0]), fy(letter_pos[i][1]), panel_letters[i], fontsize=11.5,
             fontweight="bold", ha="left", va="center", color="#222222")
    fig.text(fx(title_pos[i][0]), fy(title_pos[i][1]), panel_titles[i], fontsize=11.5,
             fontweight="bold", ha="center", va="center", color="#222222")
    fig.text(fx(box_pos[i][0]), fy(box_pos[i][1]), panel_boxes[i], fontsize=9, ha="left", va="center",
             linespacing=1.35, color="#222222",
             bbox=dict(boxstyle="square,pad=0.35", facecolor="white", edgecolor="#222222", linewidth=1.2))
    fig.text(fx(ylab_pos[i][0]), fy(ylab_pos[i][1]), YLAB, fontsize=12, rotation=90,
             ha="center", va="center", color="#222222")
    fig.text(fx(xlab_pos[i][0]), fy(xlab_pos[i][1]), XLAB, fontsize=11, ha="center", va="center",
             color="#222222")

# legend box
fig.add_artist(Rectangle((fx(595), fy(653)), (830 - 595) / W, (653 - 497) / H, transform=fig.transFigure,
                         facecolor="white", edgecolor="#555555", linewidth=1.0, zorder=0))
leg_colors = [RED, BLUE, GREEN, GREEN, "#222222", "#222222", "#222222", "#222222"]
leg_x = [612, 612, 612, 643, 647, 628, 650, 605]
leg_y = [514, 531, 549, 566, 583, 601, 619, 636]
for txt, c, x, y in zip(legend_lines, leg_colors, leg_x, leg_y):
    fig.text(fx(x), fy(y), txt, fontsize=9.8, color=c, ha="left", va="center")
fig.add_artist(Line2D([fx(605), fx(640)], [fy(583), fy(583)], transform=fig.transFigure,
                      color="#222222", linewidth=3))
fig.add_artist(Line2D([fx(606), fx(641)], [fy(619), fy(619)], transform=fig.transFigure,
                      color="#222222", linewidth=1.6, linestyle=(0, (2.2, 1.8))))

fig.savefig("out.png", dpi=100)
